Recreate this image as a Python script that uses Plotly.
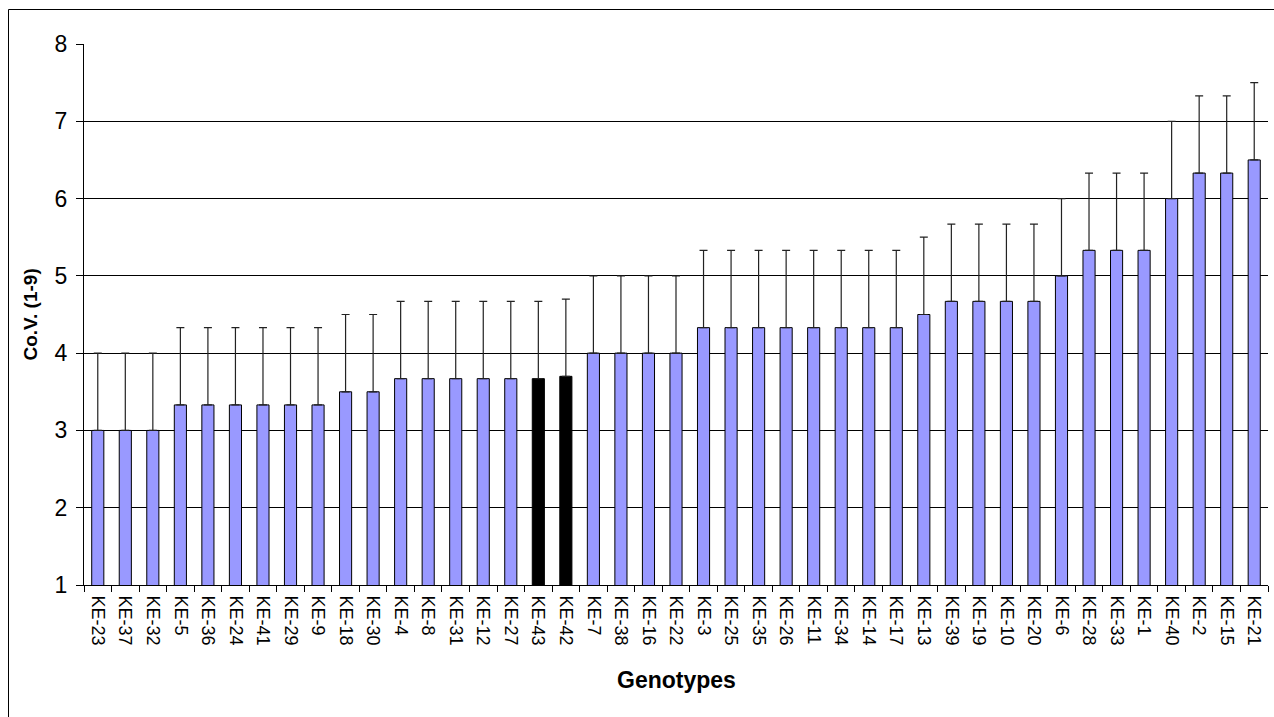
import plotly.graph_objects as go

genotypes = ["KE-23", "KE-37", "KE-32", "KE-5", "KE-36", "KE-24", "KE-41", "KE-29", "KE-9",
             "KE-18", "KE-30", "KE-4", "KE-8", "KE-31", "KE-12", "KE-27", "KE-43", "KE-42",
             "KE-7", "KE-38", "KE-16", "KE-22", "KE-3", "KE-25", "KE-35", "KE-26", "KE-11",
             "KE-34", "KE-14", "KE-17", "KE-13", "KE-39", "KE-19", "KE-10", "KE-20", "KE-6",
             "KE-28", "KE-33", "KE-1", "KE-40", "KE-2", "KE-15", "KE-21"]
cov_values = [3.0, 3.0, 3.0, 3.33, 3.33, 3.33, 3.33, 3.33, 3.33,
              3.5, 3.5, 3.67, 3.67, 3.67, 3.67, 3.67, 3.67, 3.7,
              4.0, 4.0, 4.0, 4.0, 4.33, 4.33, 4.33, 4.33, 4.33,
              4.33, 4.33, 4.33, 4.5, 4.67, 4.67, 4.67, 4.67, 5.0,
              5.33, 5.33, 5.33, 6.0, 6.33, 6.33, 6.5]
cov_error = [1.0] * len(genotypes)
highlighted = ["KE-43", "KE-42"]

bar_colors = ["#000000" if g in highlighted else "#9999FF" for g in genotypes]

fig = go.Figure()
fig.add_trace(go.Bar(
    x=genotypes,
    y=cov_values,
    marker=dict(color=bar_colors, line=dict(color="#000000", width=1)),
    error_y=dict(type="data", array=cov_error, symmetric=False, arrayminus=[0] * len(genotypes),
                 color="#222222", thickness=1.2, width=4),
    showlegend=False,
))

font_family = "Liberation Sans, Arial, sans-serif"

fig.update_layout(
    width=1274, height=717,
    margin=dict(l=84, r=6, t=44, b=132),
    plot_bgcolor="#FFFFFF",
    paper_bgcolor="#FFFFFF",
    bargap=0.56,
    font=dict(family=font_family, color="#000000"),
    xaxis=dict(
        type="category",
        showline=True, linecolor="#000000", linewidth=1,
        ticks="outside", tickson="boundaries", ticklen=6, tickcolor="#000000",
        tickangle=90, ticklabelstandoff=6,
        tickfont=dict(size=18, family=font_family, color="#000000"),
        showgrid=False,
    ),
    yaxis=dict(
        range=[1, 8], dtick=1, tick0=1,
        showline=True, linecolor="#000000", linewidth=1,
        ticks="outside", ticklen=7, tickcolor="#000000", ticklabelstandoff=4,
        tickfont=dict(size=23, family=font_family, color="#000000"),
        showgrid=True, gridcolor="#000000", gridwidth=1,
        zeroline=False,
    ),
    shapes=[dict(type="rect", xref="paper", yref="paper",
                 x0=(8.5 - 84) / 1184, x1=1.02, y0=-0.3, y1=(585 - 9.5) / 541,
                 line=dict(color="#000000", width=1), fillcolor="rgba(0,0,0,0)", layer="above")],
    annotations=[
        dict(text="<b>Genotypes</b>", xref="paper", yref="paper",
             x=0.5, y=(585 - 680) / 541, xanchor="center", yanchor="middle",
             showarrow=False, font=dict(size=23, family=font_family, color="#000000")),
        dict(text="<b>Co.V. (1-9)</b>", xref="paper", yref="paper",
             x=(30 - 84) / 1184, y=0.5, xanchor="center", yanchor="middle", textangle=-90,
             showarrow=False, font=dict(size=19, family=font_family, color="#000000")),
    ],
)

fig.write_html("out.html")
